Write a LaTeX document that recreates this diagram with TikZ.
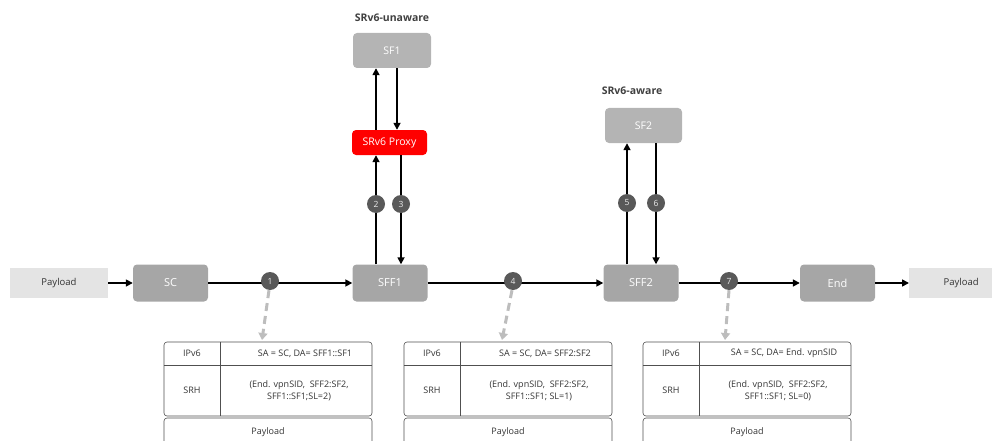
\documentclass[tikz,border=0pt]{standalone}
\usepackage{fontspec}
\setmainfont{Open Sans}
\usetikzlibrary{arrows.meta,calc}
\definecolor{boxgray}{HTML}{A6A6A6}
\definecolor{sfgray}{HTML}{B4B4B4}
\definecolor{paygray}{HTML}{E4E4E4}
\definecolor{stepgray}{HTML}{595959}
\definecolor{dashgray}{HTML}{BDBDBD}
\definecolor{proxyred}{HTML}{FF0000}
\definecolor{labelgray}{HTML}{404040}
\definecolor{tabline}{HTML}{505050}
\tikzset{
  devbox/.style={draw=none, fill=boxgray, rounded corners=4pt, minimum width=75pt,
                 minimum height=37pt, text=white, font=\fontsize{11}{13}\selectfont},
  sfbox/.style={draw=none, fill=sfgray, rounded corners=4pt, minimum width=78pt,
                minimum height=35pt, text=white, font=\fontsize{10.5}{12}\selectfont},
  paybox/.style={draw=none, fill=paygray, minimum width=98pt, minimum height=30pt,
                 text=black!80, font=\fontsize{9.5}{12}\selectfont},
  flow/.style={line width=1.6pt, black, -{Triangle[length=7pt,width=7pt]}},
  stepnum/.style={circle, fill=stepgray, minimum size=18pt, inner sep=0pt,
                  text=white!85!gray, font=\fontsize{8.5}{10}\selectfont},
  hint/.style={line width=3pt, dashgray, dash pattern=on 8pt off 5pt,
               -{Triangle[length=7pt,width=9pt]}},
  tabtext/.style={font=\fontsize{9}{12.5}\selectfont, text=black!80, align=center},
  tabframe/.style={draw=tabline, line width=0.6pt, rounded corners=3pt},
  tag/.style={font=\bfseries\fontsize{10.5}{12}\selectfont, text=labelgray}
}
\begin{document}
\begin{tikzpicture}[x=1pt,y=-1pt]
\useasboundingbox (0,0) rectangle (992,441);
\clip (0,0) rectangle (992,441);

% main chain
\node[paybox] (payL) at (59,283) {Payload};
\node[devbox] (sc) at (170.5,283) {SC};
\node[devbox] (sff1) at (390,283) {SFF1};
\node[devbox] (sff2) at (641,283) {SFF2};
\node[devbox] (endn) at (837.5,283) {End};
\node[paybox, minimum width=104pt, anchor=west] (payR) at (909,283) {Payload};

% service functions
\node[devbox, fill=proxyred, minimum height=25pt, font=\fontsize{10.5}{12}\selectfont] (proxy) at (389.5,142.5) {SRv6 Proxy};
\node[sfbox] (sf1) at (392,50.5) {SF1};
\node[sfbox, minimum width=77pt] (sf2) at (643.5,125.5) {SF2};
\node[tag] (tagA) at (392,18) {SRv6-unaware};
\node[tag] (tagB) at (632,91) {SRv6-aware};

% horizontal links
\draw[flow] (payL.east) -- (sc.west);
\draw[flow] (sc.east) -- (sff1.west);
\draw[flow] (sff1.east) -- (sff2.west);
\draw[flow] (sff2.east) -- (endn.west);
\draw[flow] (endn.east) -- (payR.west);

% SFF1 <-> proxy <-> SF1
\draw[flow] ([xshift=-14pt]sff1.north) -- ([xshift=-14pt]sff1.north |- proxy.south);
\draw[flow] ([xshift=11pt]sff1.north |- proxy.south) -- ([xshift=11pt]sff1.north);
\draw[flow] ([xshift=-14pt]sff1.north |- proxy.north) -- ([xshift=-14pt]sff1.north |- sf1.south);
\draw[flow] ([xshift=7pt]sff1.north |- sf1.south) -- ([xshift=7pt]sff1.north |- proxy.north);

% SFF2 <-> SF2
\draw[flow] ([xshift=-14pt]sff2.north) -- ([xshift=-14pt]sff2.north |- sf2.south);
\draw[flow] ([xshift=15pt]sff2.north |- sf2.south) -- ([xshift=15pt]sff2.north);

% step markers
\node[stepnum] (s1) at (270,281) {1};
\node[stepnum] (s2) at (376,204) {2};
\node[stepnum] (s3) at (401,204) {3};
\node[stepnum] (s4) at (513,281) {4};
\node[stepnum] (s5) at (627,203) {5};
\node[stepnum] (s6) at (656,203) {6};
\node[stepnum] (s7) at (729,281) {7};

% packet tables
\coordinate (t1) at (262,340);
\coordinate (t4) at (502,340);
\coordinate (t7) at (725,340);
\draw[hint] ([xshift=-1pt]s1.south) -- (t1);
\draw[hint] ([xshift=-1pt]s4.south) -- (t4);
\draw[hint] (s7.south) -- (t7);

\foreach \x/\d/\sl in {164/SFF1::SF1/{SFF1::SF1;SL=2)}, 404/SFF2:SF2/{SFF1::SF1; SL=1)}, 643/End. vpnSID/{SFF1::SF1; SL=0)}}{
  \draw[tabframe] (\x,342) rectangle (\x+208,416);
  \draw[tabline, line width=0.6pt] (\x+56,342) -- (\x+56,416);
  \draw[tabline, line width=0.6pt] (\x,365) -- (\x+208,365);
  \draw[tabframe] (\x,460) rectangle (\x+208,418);
  \node[tabtext] at (\x+28,353.5) {IPv6};
  \node[tabtext] at (\x+28,390) {SRH};
  \node[tabtext] at (\x+141,353.5) {SA = SC, DA= \d};
  \node[tabtext] at (\x+135,391) {(End. vpnSID,\ \ SFF2:SF2,\\ \sl};
  \node[tabtext] at (\x+104,432) {Payload};
}
\end{tikzpicture}
\end{document}
